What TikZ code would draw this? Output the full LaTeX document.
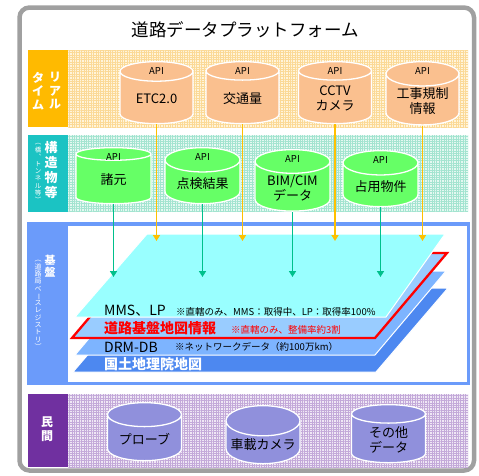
\documentclass[tikz,border=0pt]{standalone}
\usepackage{fontspec}
\setmainfont{Noto Sans CJK JP}
\usetikzlibrary{arrows.meta,positioning,shapes.geometric,patterns.meta}
\definecolor{framegray}{HTML}{A0A0A0}
\definecolor{rtside}{HTML}{FFBA00}
\definecolor{rtback}{HTML}{FFF4DA}
\definecolor{rtgrid}{HTML}{FBD996}
\definecolor{rtcyl}{HTML}{FAC08F}
\definecolor{stside}{HTML}{1BC3C3}
\definecolor{stback}{HTML}{E4F8F1}
\definecolor{stgrid}{HTML}{A3E4D0}
\definecolor{stcyl}{HTML}{66FF66}
\definecolor{pvside}{HTML}{7030A0}
\definecolor{pvback}{HTML}{EFE7F5}
\definecolor{pvgrid}{HTML}{C3A9D9}
\definecolor{pvcyl}{HTML}{9090DC}
\definecolor{baseblue}{HTML}{6B9BFA}
\definecolor{mmsplane}{HTML}{99FFFF}
\definecolor{roadplane}{HTML}{99CCFF}
\definecolor{drmplane}{HTML}{7DB4FF}
\definecolor{gsiplane}{HTML}{4D88F0}
\definecolor{goldarrow}{HTML}{FFC000}
\definecolor{greenarrow}{HTML}{00C08C}
\definecolor{roadred}{HTML}{FF0000}
\tikzset{
  mesh/.style={pattern={Hatch[angle=0,distance=2.4pt,line width=0.7pt]},pattern color=#1},
  sidelbl/.style={text=white,font=\fontsize{12}{13.5}\selectfont\bfseries,align=center,inner sep=0pt},
  sidesmall/.style={text=white,font=\fontsize{6.5}{7.2}\selectfont,align=center,inner sep=0pt},
  db/.style={cylinder,shape border rotate=90,aspect=0.45,draw=white,line width=1.3pt,
    align=center,font=\fontsize{13}{15}\selectfont,inner sep=1pt},
  rtdb/.style={db,fill=rtcyl,minimum width=73pt,minimum height=62pt},
  stdb/.style={db,fill=stcyl,minimum width=75pt,minimum height=56pt},
  pvdb/.style={db,fill=pvcyl,minimum width=74pt,minimum height=58pt},
  api/.style={font=\fontsize{9.5}{10}\selectfont,inner sep=0pt},
  goldarr/.style={-{Triangle[length=6pt,width=7pt]},line width=1.6pt,draw=goldarrow},
  greenarr/.style={-{Triangle[length=6pt,width=7pt]},line width=1.6pt,draw=greenarrow},
  plane/.style={draw=white,line width=1pt},
  planetxt/.style={anchor=west,font=\fontsize{14}{15}\selectfont,inner sep=0pt},
  planenote/.style={anchor=west,font=\fontsize{9.5}{10}\selectfont,inner sep=0pt},
}
\begin{document}
\begin{tikzpicture}[x=1pt,y=-1pt]
  \useasboundingbox (0,0) rectangle (479,475);
  \draw[line width=4.5pt,draw=framegray,rounded corners=10pt] (19.5,7.5) rectangle (474,470.5);
  \node[font=\fontsize{17.5}{18}\selectfont] (title) at (245,30) {道路データプラットフォーム};

  % リアルタイム
  \fill[rtside] (28,50) rectangle (68,127);
  \fill[rtback] (68,50) rectangle (468,127);
  \fill[mesh=rtgrid] (68,50) rectangle (468,127);
  \node[sidelbl] (rtlblA) at (55,91) {リ\\ア\\ル};
  \node[sidelbl] (rtlblB) at (38,91) {タ\\イ\\ム};
  \foreach \x/\n/\t in {156.5/etc/{ETC2.0}, 242.5/traffic/{交通量},
    335/cctv/{CCTV\\カメラ}, 422.5/works/{工事規制\\情報}}
  {
    \node[rtdb,anchor=top] (\n) at (\x,61) {\t};
    \node[api] at ([yshift=-10.5pt]\n.top) {API};
  }

  % 構造物等
  \fill[stside] (28,135) rectangle (68,212);
  \fill[stback] (68,135) rectangle (468,212);
  \fill[mesh=stgrid] (68,135) rectangle (468,212);
  \node[sidelbl,font=\fontsize{13}{15}\selectfont\bfseries] (stlblA) at (51,170) {構\\造\\物\\等};
  \node[sidesmall] (stlblB) at (38,173) {︵\\橋\\︑\\ト\\ン\\ネ\\ル\\等\\︶};
  \foreach \x/\y/\n/\t in {113.5/147/specs/{諸元}, 202.5/147/inspect/{点検結果},
    292.5/149/bim/{BIM/CIM\\データ}, 380.5/150/occupy/{占用物件}}
  {
    \node[stdb,anchor=top] (\n) at (\x,\y) {\t};
    \node[api] at ([yshift=-10.5pt]\n.top) {API};
  }

  % 基盤
  \fill[baseblue] (27,222) rectangle (470,385);
  \fill[white] (68,225.5) rectangle (466.5,382);
  \node[sidelbl,font=\fontsize{11}{12.5}\selectfont\bfseries] (baselblA) at (50,266) {基\\盤};
  \node[sidesmall,font=\fontsize{7}{7.3}\selectfont] (baselblB) at (38,305)
    {︵\\道\\路\\局\\ベ\\\rotatebox[origin=c]{-90}{ー}\\ス\\レ\\ジ\\ス\\ト\\リ\\︶};

  \fill[gsiplane,plane] (73,372) -- (376,372) -- (448,288) -- (145,288) -- cycle;
  \fill[drmplane,plane] (75,355) -- (375,355) -- (446,271) -- (146,271) -- cycle;
  \filldraw[fill=roadplane,draw=roadred,line width=2.3pt] (72,338) -- (375,338) -- (447,253) -- (144,253) -- cycle;
  \fill[mmsplane,plane] (75,317) -- (386,317) -- (445,234) -- (147,234) -- cycle;

  \node[planetxt] (mms) at (104,311) {MMS、LP};
  \node[planenote] (mmsnote) at (176,312) {※直轄のみ、MMS：取得中、LP：取得率100\%};
  \node[planetxt,text=roadred,font=\fontsize{14}{15}\selectfont\bfseries] (road) at (104,328.5) {道路基盤地図情報};
  \node[planenote,text=roadred] (roadnote) at (231,330) {※直轄のみ、整備率約3割};
  \node[planetxt] (drm) at (104,347) {DRM-DB};
  \node[planenote] (drmnote) at (175,347) {※ネットワークデータ（約100万km）};
  \node[planetxt,text=white,font=\fontsize{14}{15}\selectfont\bfseries] (gsi) at (104,364) {国土地理院地図};

  \coordinate (goldtip) at (0,241);
  \coordinate (greentip) at (0,277);
  \foreach \n in {etc,traffic,cctv,works}
    \draw[goldarr] (\n.bottom) -- (\n.bottom |- goldtip);
  \foreach \n in {specs,inspect,bim,occupy}
    \draw[greenarr] (\n.bottom) -- (\n.bottom |- greentip);

  % 民間
  \fill[pvside] (28,394) rectangle (68,467);
  \fill[pvback] (68,394) rectangle (468,467);
  \fill[mesh=pvgrid] (68,394) rectangle (468,467);
  \node[sidelbl] (pvlbl) at (47,429) {民\\間};
  \node[pvdb,anchor=top] (probe) at (144.5,402) {プローブ};
  \node[pvdb,anchor=top] (carcam) at (263,405) {車載カメラ};
  \node[pvdb,anchor=top] (other) at (388.5,404) {その他\\データ};
\end{tikzpicture}
\end{document}
